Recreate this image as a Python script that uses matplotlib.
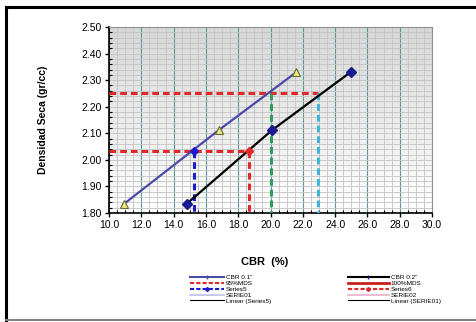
import numpy as np
import matplotlib.pyplot as plt
from matplotlib.lines import Line2D

plt.rcParams['font.family'] = ['Liberation Sans', 'DejaVu Sans']

# data
cbr01_x = [10.9, 16.8, 21.6]
cbr01_y = [1.833, 2.112, 2.330]
cbr02_x = [14.8, 20.1, 25.0]
cbr02_y = [1.834, 2.112, 2.332]

mds95 = 2.034
mds100 = 2.25
cbr95_01 = 15.24   # CBR 0.1" at 95% MDS
cbr95_02 = 18.65   # CBR 0.2" at 95% MDS
cbr100_01 = 20.0   # CBR 0.1" at 100% MDS
cbr100_02 = 22.94  # CBR 0.2" at 100% MDS

x_ticks = np.arange(10, 30.1, 2)
y_ticks = np.arange(1.8, 2.501, 0.1)
x_min, x_max = 10, 30
y_min, y_max = 1.8, 2.5

fig = plt.figure(figsize=(4.77, 3.22), dpi=100)
ax = fig.add_axes([109 / 477, 1 - 213 / 322, 323 / 477, 186 / 322])

# gray (top) to white (bottom) background
grad = np.linspace(0.84, 1.0, 256).reshape(-1, 1)
ax.imshow(grad, extent=[x_min, x_max, y_min, y_max], origin='upper', aspect='auto',
          cmap='gray', vmin=0, vmax=1, zorder=0)

ax.set_xlim(x_min, x_max)
ax.set_ylim(y_min, y_max)
ax.set_xticks(x_ticks)
ax.set_xticklabels([f'{v:.1f}' for v in x_ticks], fontsize=7.5)
ax.set_yticks(y_ticks)
ax.set_yticklabels([f'{v:.2f}' for v in y_ticks], fontsize=7.5)
ax.set_xticks(np.arange(10, 30.01, 0.5), minor=True)
ax.set_yticks(np.arange(1.8, 2.501, 0.02), minor=True)
ax.tick_params(which='major', direction='out', length=3, width=1, pad=2)
ax.tick_params(which='minor', direction='in', length=2.5, width=0.8)
ax.grid(True, which='minor', color='#c4c4c4', lw=0.6, zorder=1)
ax.grid(True, which='major', axis='y', color='#c4c4c4', lw=0.6, zorder=1)
ax.grid(True, which='major', axis='x', color='#5a9a9e', lw=0.8, zorder=1)
for s in ['top', 'right']:
    ax.spines[s].set_color('#909090')
for s in ['left', 'bottom']:
    ax.spines[s].set_linewidth(1.2)

dash = (0, (2.2, 1.3))
# reference lines at 95% and 100% MDS
ax.plot([x_min, cbr95_02], [mds95, mds95], color='#e02828', lw=2.2, ls=dash, zorder=3)
ax.plot([x_min, cbr100_02], [mds100, mds100], color='#e02828', lw=2.2, ls=dash, zorder=3)
ax.plot([cbr95_01, cbr95_01], [mds95, y_min], color='#1c1ccc', lw=2.2, ls=dash, zorder=3)
ax.plot([cbr95_02, cbr95_02], [mds95, y_min], color='#e02828', lw=2.2, ls=dash, zorder=3)
ax.plot([cbr100_01, cbr100_01], [mds100, y_min], color='#2e9e5a', lw=2.2, ls=dash, zorder=3)
ax.plot([cbr100_02, cbr100_02], [mds100, y_min], color='#45b4d4', lw=2.2, ls=dash, zorder=3)

# CBR curves
ax.plot(cbr01_x, cbr01_y, color='#4a4aa8', lw=1.6, zorder=4)
ax.plot(cbr01_x, cbr01_y, ls='none', marker='^', ms=5.5, mfc='#e6ea80',
        mec='#6a6a30', mew=0.8, zorder=5)
ax.plot(cbr02_x, cbr02_y, color='black', lw=1.6, zorder=4)
ax.plot(cbr02_x, cbr02_y, ls='none', marker='D', ms=5, color='#1a1a90', zorder=5)
ax.plot([cbr95_01], [mds95], ls='none', marker='D', ms=4, color='#1c1ccc', zorder=6)
ax.plot([cbr95_02], [mds95], ls='none', marker='D', ms=4, color='#e02828', zorder=6)

ax.set_ylabel('Densidad Seca (gr/cc)', fontsize=7.5, fontweight='bold', labelpad=24)
fig.text(265 / 477, 1 - 262 / 322, 'CBR  (%)', fontsize=8, fontweight='bold',
         ha='center', va='center')

# legend, two blocks
left_handles = [
    Line2D([], [], color='#4a4aa8', lw=1.5, marker='|', ms=3),
    Line2D([], [], color='#e02828', lw=1.5, ls=(0, (2, 1))),
    Line2D([], [], color='#1c1ccc', lw=1.5, ls=(0, (2, 1)), marker='D', ms=2),
    Line2D([], [], color='#b8c0e8', lw=1.2),
    Line2D([], [], color='black', lw=0.8),
]
left_labels = ['CBR 0.1"', '95%MDS', 'Series5', 'SERIE01', 'Linear (Series5)']
right_handles = [
    Line2D([], [], color='black', lw=1.5, marker='|', ms=3, mec='#1a1a90'),
    Line2D([], [], color='#c82020', lw=2),
    Line2D([], [], color='#e02828', lw=1.5, ls=(0, (2, 1)), marker='D', ms=2),
    Line2D([], [], color='#e8b0c8', lw=1.2),
    Line2D([], [], color='black', lw=0.8),
]
right_labels = ['CBR 0.2"', '100%MDS', 'Series6', 'SERIE02', 'Linear (SERIE01)']
kw = dict(loc='upper left', fontsize=4.6, frameon=False, handletextpad=0.3,
          labelspacing=0.05, borderpad=0, borderaxespad=0)
fig.legend(left_handles, left_labels, bbox_to_anchor=(190 / 477, 1 - 275 / 322),
           handlelength=5.3, **kw)
fig.legend(right_handles, right_labels, bbox_to_anchor=(348 / 477, 1 - 275 / 322),
           handlelength=6.4, **kw)

# outer frame
fig.add_artist(Line2D([6 / 477, 6 / 477], [1 - 7 / 322, 1 - 320 / 322], color='black', lw=2.2))
fig.add_artist(Line2D([6 / 477, 1], [1 - 7 / 322, 1 - 7 / 322], color='black', lw=2.2))
fig.add_artist(Line2D([6 / 477, 1], [1 - 320 / 322, 1 - 320 / 322], color='#808080', lw=1.5))

fig.savefig('out.png', dpi=100)
